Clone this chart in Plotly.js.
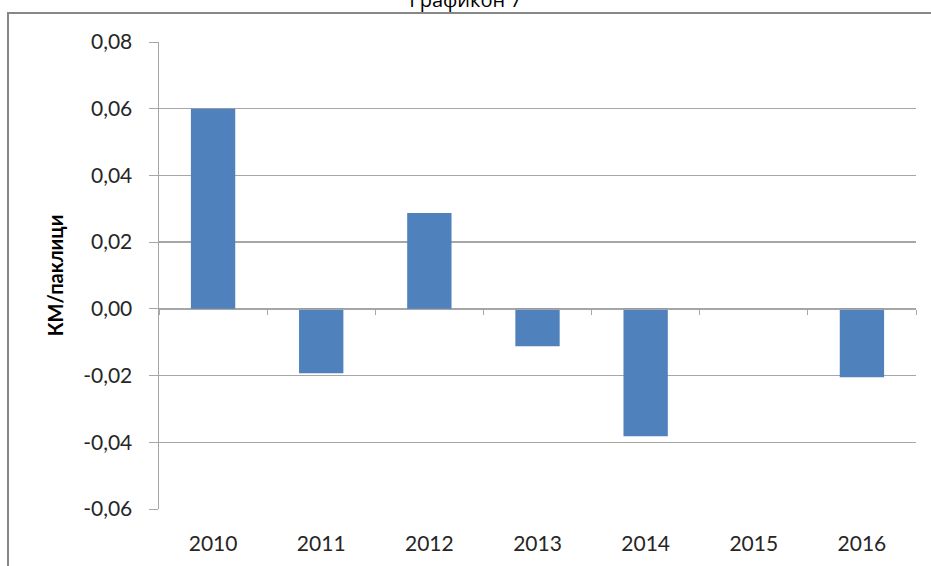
<!DOCTYPE html>
<html>
<head>
<meta charset="utf-8">
<script src="https://cdn.plot.ly/plotly-3.0.1.min.js"></script>
<style>
  body { margin: 0; background: #fff; }
  #chart { width: 931px; height: 566px; }
</style>
</head>
<body>
<div id="chart"></div>
<script>
const years = ['2010', '2011', '2012', '2013', '2014', '2015', '2016'];
const values = [0.060, -0.0193, 0.0287, -0.0112, -0.0382, 0, -0.0205];
const yTickVals = [-0.06, -0.04, -0.02, 0, 0.02, 0.04, 0.06, 0.08];
const yTickText = ['-0,06', '-0,04', '-0,02', '0,00', '0,02', '0,04', '0,06', '0,08'];

const gray = '#a6a6a6';
const labelFont = { family: 'Lato, "Open Sans", sans-serif', size: 21, color: '#262626' };

const bars = {
  x: years,
  y: values,
  type: 'bar',
  marker: { color: '#4f81bd' },
  hoverinfo: 'x+y'
};

// carries the year labels along the bottom
const labelTrace = {
  x: years,
  y: values,
  xaxis: 'x2',
  type: 'scatter',
  mode: 'markers',
  marker: { opacity: 0 },
  hoverinfo: 'skip',
  showlegend: false
};

const layout = {
  width: 931,
  height: 566,
  margin: { l: 159, r: 15, t: 42, b: 57 },
  paper_bgcolor: '#fff',
  plot_bgcolor: '#fff',
  showlegend: false,
  bargap: 0.59,
  title: {
    text: 'Графикон 7',
    font: { family: '"Open Sans", sans-serif', size: 20, color: '#000' },
    xref: 'container',
    x: 0.5,
    yref: 'container',
    y: 1 - 7 / 566,
    yanchor: 'bottom'
  },
  xaxis: {
    type: 'category',
    range: [-0.5, 6.5],
    anchor: 'free',
    position: 0.06 / 0.14,
    showline: true,
    linecolor: gray,
    linewidth: 1.5,
    ticks: 'outside',
    tickson: 'boundaries',
    ticklen: 5,
    tickcolor: gray,
    showticklabels: false,
    showgrid: false,
    zeroline: false,
    fixedrange: true
  },
  xaxis2: {
    type: 'category',
    overlaying: 'x',
    anchor: 'y',
    side: 'bottom',
    range: [-0.5, 6.5],
    showline: false,
    showgrid: false,
    ticks: '',
    ticklabelstandoff: 20,
    tickfont: labelFont,
    fixedrange: true
  },
  yaxis: {
    range: [-0.06, 0.08],
    tickvals: yTickVals,
    ticktext: yTickText,
    showgrid: true,
    gridcolor: gray,
    gridwidth: 1.5,
    showline: true,
    linecolor: gray,
    linewidth: 1.5,
    ticks: 'outside',
    ticklen: 9,
    tickcolor: gray,
    ticklabelstandoff: 12,
    zeroline: false,
    tickfont: labelFont,
    title: {
      text: '<b>КМ/паклици</b>',
      font: { family: 'Lato, "Open Sans", sans-serif', size: 20, color: '#000' },
      standoff: 14
    },
    fixedrange: true
  },
  shapes: [{
    type: 'rect',
    xref: 'paper', yref: 'paper',
    x0: (8 - 159) / 757, x1: 1.2,
    y0: -0.3, y1: 1 + (42 - 13) / 467,
    line: { color: '#878787', width: 2 },
    layer: 'below'
  }]
};

Plotly.newPlot('chart', [bars, labelTrace], layout, { displayModeBar: false, staticPlot: true });
</script>
</body>
</html>
